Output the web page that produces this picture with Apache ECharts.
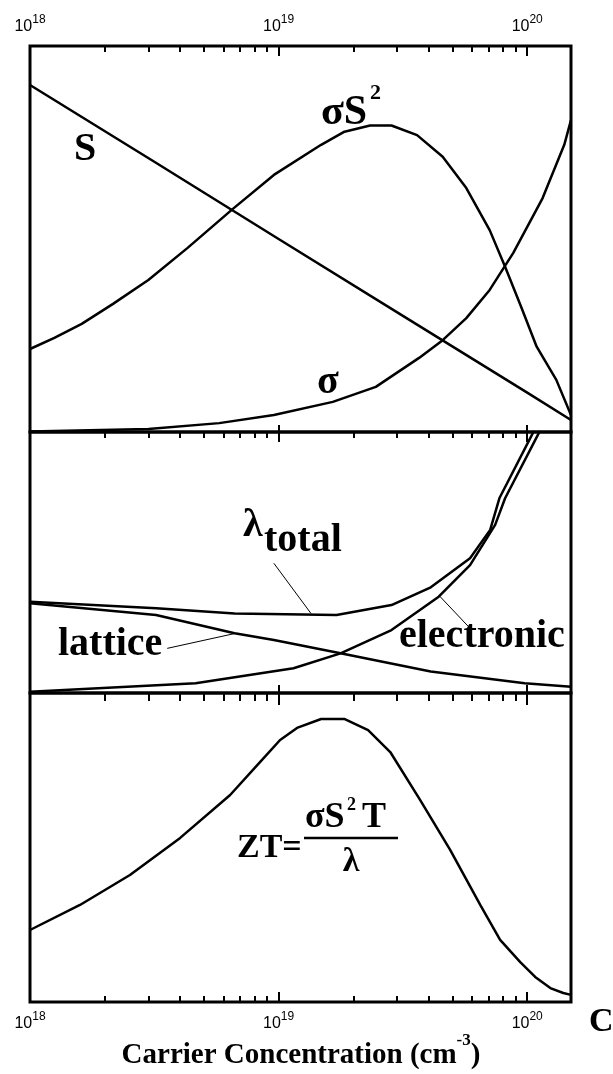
<!DOCTYPE html>
<html>
<head>
<meta charset="utf-8">
<script src="https://cdn.jsdelivr.net/npm/echarts@6/dist/echarts.min.js"></script>
<style>
  html, body { margin: 0; padding: 0; background: #fff; }
  #chart { width: 613px; height: 1074px; }
</style>
</head>
<body>
<div id="chart"></div>
<script>
// Carrier concentration is stored as log10(n / cm^-3); the axis runs 1e18 .. 1.5e20
const X_MIN = 18;
const X_MAX = 20.1761;
const decadeLabels = [18, 19, 20];
const minorMantissas = [2, 3, 4, 5, 6, 7, 8, 9];

// Top panel: Seebeck coefficient S, conductivity sigma, power factor sigma*S^2 (arb. units)
const seebeckLogN = [18.0, 18.5, 19.0, 19.5, 20.0, 20.176];
const seebeckVal  = [89.9, 70.0, 50.0, 30.1, 10.2, 3.1];

const powerLogN = [18.0, 18.098, 18.208, 18.334, 18.476, 18.634, 18.816, 18.981, 19.171, 19.265,
                   19.368, 19.454, 19.557, 19.66, 19.755, 19.849, 19.911, 19.975, 20.038, 20.117, 20.176];
const powerVal  = [21.5, 24.4, 28.0, 33.2, 39.4, 47.7, 57.8, 66.6, 74.4, 77.8,
                   79.4, 79.4, 76.9, 71.3, 63.2, 52.3, 42.8, 32.5, 22.1, 13.5, 4.4];

const sigmaLogN = [18.0, 18.476, 18.761, 18.981, 19.218, 19.391, 19.565, 19.66, 19.755, 19.849,
                   19.944, 20.062, 20.149, 20.176];
const sigmaVal  = [0.1, 0.8, 2.3, 4.4, 7.8, 11.7, 19.2, 23.8, 29.5, 36.8,
                   46.4, 60.6, 74.4, 80.8];

// Middle panel: thermal conductivity (total, lattice, electronic)
const totalLogN = [18.0, 18.508, 18.823, 19.233, 19.454, 19.612, 19.77, 19.851, 19.888, 20.022, 20.05];
const totalVal  = [35.0, 32.5, 30.5, 29.9, 33.7, 40.5, 51.6, 62.5, 74.6, 99.5, 110];

const latticeLogN = [18.0, 18.507, 18.823, 18.981, 19.249, 19.612, 19.99, 20.176];
const latticeVal  = [34.4, 29.9, 22.9, 20.3, 15.2, 8.2, 3.7, 2.4];

const electronicLogN = [18.0, 18.666, 19.06, 19.249, 19.454, 19.644, 19.77, 19.871, 19.911, 20.046, 20.075];
const electronicVal  = [0.5, 3.7, 9.5, 15.2, 24.1, 36.9, 49.0, 64.4, 74.6, 99.5, 110];

// Bottom panel: figure of merit ZT
const ztLogN = [18.0, 18.201, 18.402, 18.604, 18.805, 18.926, 19.006, 19.074, 19.171, 19.264,
                19.36, 19.449, 19.569, 19.69, 19.811, 19.891, 19.972, 20.032, 20.093, 20.145, 20.176];
const ztVal  = [23.3, 31.4, 41.1, 53.1, 67.0, 77.7, 84.8, 88.7, 91.6, 91.6,
                88.0, 80.9, 65.4, 49.2, 31.4, 20.1, 12.9, 8.1, 4.5, 2.9, 2.3];

const pairs = (xs, ys) => xs.map((x, i) => [x, ys[i]]);

const minorTicks = [];
decadeLabels.forEach(d => minorMantissas.forEach(m => {
  const v = d + Math.log10(m);
  if (v <= X_MAX) minorTicks.push(v);
}));

const serif = '"Liberation Serif", "Times New Roman", serif';
const sans = '"Liberation Sans", Arial, sans-serif';

const tickLabel = {
  show: true,
  customValues: decadeLabels,
  formatter: v => '{b|10}{s|' + Math.round(v) + '}',
  rich: {
    b: { fontFamily: sans, fontSize: 16, lineHeight: 26, color: '#000', verticalAlign: 'middle' },
    s: { fontFamily: sans, fontSize: 12, lineHeight: 11, color: '#000', verticalAlign: 'top' }
  }
};

function xAxis(gridIndex, position, ticks, len, label) {
  return {
    type: 'value', gridIndex, position, min: X_MIN, max: X_MAX,
    axisLine: { show: false, onZero: false },
    splitLine: { show: false },
    axisTick: { show: true, inside: true, length: len, customValues: ticks,
                lineStyle: { color: '#000', width: 2 } },
    axisLabel: label ? Object.assign({ margin: label.margin }, tickLabel) : { show: false }
  };
}

const xAxes = [
  xAxis(0, 'top', decadeLabels, 10, { margin: 6 }),    // 0: series axis, top panel
  xAxis(0, 'top', minorTicks, 6),
  xAxis(0, 'bottom', decadeLabels, 7),
  xAxis(1, 'top', decadeLabels, 10),                   // 3: series axis, middle panel
  xAxis(1, 'top', minorTicks, 6),
  xAxis(1, 'bottom', decadeLabels, 8),
  xAxis(2, 'top', decadeLabels, 12),                   // 6: series axis, bottom panel
  xAxis(2, 'top', minorTicks, 8),
  xAxis(2, 'bottom', decadeLabels, 10, { margin: 9 }),
  xAxis(2, 'bottom', minorTicks, 6)
];

const yAxes = [0, 1, 2].map(g => ({
  type: 'value', gridIndex: g, min: 0, max: 100, show: false
}));

const curve = (xIdx, yIdx, data, extra) => Object.assign({
  type: 'line', xAxisIndex: xIdx, yAxisIndex: yIdx, data,
  symbol: 'none', showSymbol: false, silent: true, clip: true,
  lineStyle: { color: '#000', width: 2.5 }
}, extra || {});

const leader = (a, b) => [{ coord: a }, { coord: b }];

const series = [
  curve(0, 0, pairs(seebeckLogN, seebeckVal)),
  curve(0, 0, pairs(powerLogN, powerVal)),
  curve(0, 0, pairs(sigmaLogN, sigmaVal)),
  curve(3, 1, pairs(totalLogN, totalVal), {
    markLine: {
      silent: true, symbol: ['none', 'none'], label: { show: false },
      lineStyle: { color: '#000', width: 1, type: 'solid' },
      data: [
        leader([18.981, 49.7], [19.13, 30.5]),
        leader([18.552, 17.1], [18.829, 22.9]),
        leader([19.644, 37.5], [19.77, 24.8])
      ]
    }
  }),
  curve(3, 1, pairs(latticeLogN, latticeVal)),
  curve(3, 1, pairs(electronicLogN, electronicVal)),
  curve(6, 2, pairs(ztLogN, ztVal))
];

const txt = (x, y, text, size, extra) => ({
  type: 'text', x, y, silent: true,
  style: Object.assign({ text, fill: '#000', font: 'bold ' + size + 'px ' + serif,
                         verticalAlign: 'middle' }, extra || {})
});

const graphic = [
  txt(74, 150, 'S', 40),
  txt(321, 113, 'σS', 42),
  txt(370, 93, '2', 22),
  txt(317, 383, 'σ', 40),
  txt(243, 526, 'λ', 40),
  txt(264, 541, 'total', 40),
  txt(58, 645, 'lattice', 40),
  txt(399, 637, 'electronic', 40),
  txt(237, 848, 'ZT=', 34),
  txt(305, 818, 'σS', 36),
  txt(347, 805, '2', 18),
  txt(362, 818, 'T', 36),
  { type: 'line', silent: true, shape: { x1: 304, y1: 838, x2: 398, y2: 838 },
    style: { stroke: '#000', lineWidth: 2.5 } },
  txt(351, 862, 'λ', 34, { align: 'center' }),
  txt(589, 1022, 'C', 34),
  {
    type: 'text', x: 301, y: 1056, silent: true,
    style: {
      text: '{t|Carrier Concentration (cm}{s|-3}{t|)}',
      align: 'center', verticalAlign: 'middle',
      rich: {
        t: { font: 'bold 29px ' + serif, fill: '#000', lineHeight: 48, verticalAlign: 'middle' },
        s: { font: 'bold 17px ' + serif, fill: '#000', lineHeight: 17, verticalAlign: 'top' }
      }
    }
  }
];

const chart = echarts.init(document.getElementById('chart'), null, { renderer: 'canvas' });
chart.setOption({
  animation: false,
  backgroundColor: '#fff',
  grid: [
    { left: 30, right: 42, top: 46, height: 386, show: true, borderColor: '#000', borderWidth: 3 },
    { left: 30, right: 42, top: 432, height: 261, show: true, borderColor: '#000', borderWidth: 3 },
    { left: 30, right: 42, top: 693, height: 309, show: true, borderColor: '#000', borderWidth: 3 }
  ],
  xAxis: xAxes,
  yAxis: yAxes,
  series,
  graphic
});
</script>
</body>
</html>
